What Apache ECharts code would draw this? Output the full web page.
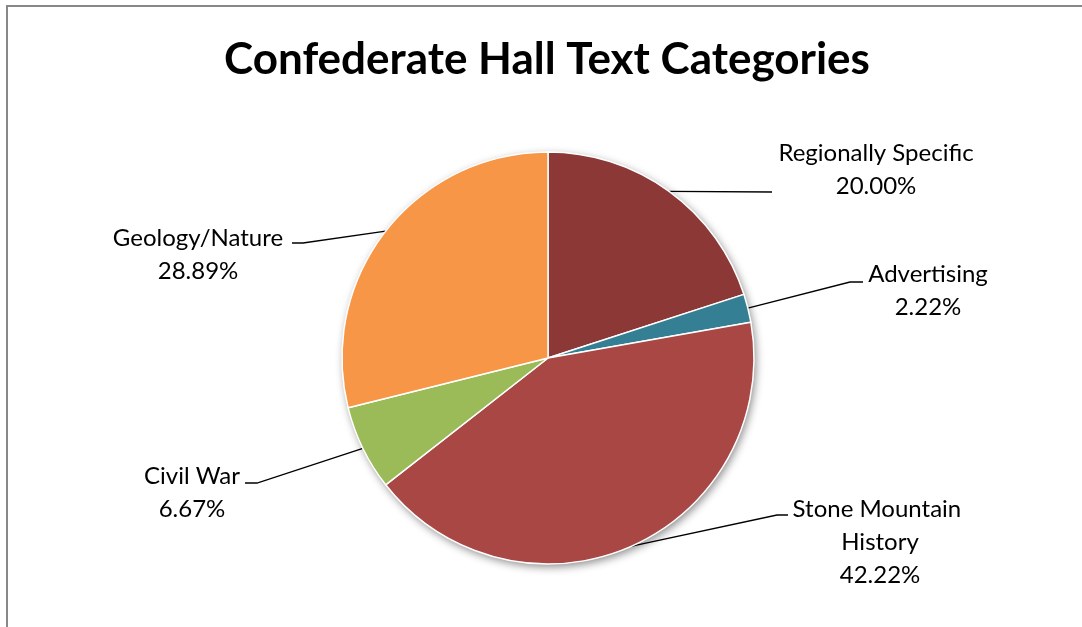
<!DOCTYPE html>
<html>
<head>
<meta charset="utf-8">
<title>Confederate Hall Text Categories</title>
<script src="https://cdn.jsdelivr.net/npm/echarts@6/dist/echarts.min.js"></script>
<style>
  html, body { margin: 0; padding: 0; background: #fff; }
  #chart { width: 1082px; height: 627px; }
</style>
</head>
<body>
<div id="chart"></div>
<script>
// Text categories and the number of panels in each
const categories = ['Regionally Specific', 'Advertising', 'Stone Mountain History', 'Civil War', 'Geology/Nature'];
const counts = [9, 1, 19, 3, 13];
const sliceColors = ['#8C3836', '#357F94', '#A94745', '#9BBB59', '#F79646'];

// Label placement: centre x / top y of each text block, and the leader bend + end points
const labelSpots = [
  { x: 876, y: 137, bend: [772, 192], end: [772, 192] },
  { x: 928, y: 258, bend: [850, 282], end: [863, 282] },
  { x: 880, y: 493, bend: [777, 515], end: [788, 515] },
  { x: 192, y: 460, bend: [257, 483], end: [245, 483] },
  { x: 198, y: 222, bend: [303, 243], end: [292, 243] }
];

const total = counts.reduce((a, b) => a + b, 0);
const pieCenter = [548, 358];
const pieRadius = 206;

const chart = echarts.init(document.getElementById('chart'), null, { renderer: 'canvas' });

chart.setOption({
  backgroundColor: '#fff',
  animation: false,
  title: {
    text: 'Confederate Hall Text Categories',
    left: 542,
    top: 33,
    textAlign: 'center',
    textStyle: { fontFamily: 'Lato', fontWeight: 'bold', fontSize: 44, color: '#000' }
  },
  graphic: [{
    type: 'rect',
    silent: true,
    shape: { x: 7, y: 6, width: 2000, height: 2000 },
    style: { fill: 'none', stroke: '#888', lineWidth: 2 }
  }],
  series: [
    {
      // soft drop shadow under the whole disc
      type: 'pie',
      silent: true,
      center: pieCenter,
      radius: pieRadius,
      label: { show: false },
      labelLine: { show: false },
      data: [{
        value: 1,
        itemStyle: {
          color: '#fff',
          shadowBlur: 8,
          shadowOffsetX: 2,
          shadowOffsetY: 3,
          shadowColor: 'rgba(0,0,0,0.45)'
        }
      }]
    },
    {
      type: 'pie',
      center: pieCenter,
      radius: pieRadius,
      startAngle: 90,
      clockwise: true,
      avoidLabelOverlap: false,
      itemStyle: { borderColor: '#fff', borderWidth: 1.5 },
      data: categories.map((name, i) => ({
        name: name,
        value: counts[i],
        itemStyle: { color: sliceColors[i] },
        label: name === 'Stone Mountain History' ? { width: 200, overflow: 'break' } : {}
      })),
      label: {
        show: true,
        position: 'outside',
        fontFamily: 'Lato',
        fontSize: 24,
        lineHeight: 33,
        color: '#000',
        align: 'center',
        formatter: p => p.name + '\n' + (p.value / total * 100).toFixed(2) + '%'
      },
      labelLine: {
        show: true,
        length: 20,
        length2: 10,
        smooth: false,
        lineStyle: { color: '#000', width: 1.3 }
      },
      labelLayout: function (params) {
        const spot = labelSpots[params.dataIndex];
        const start = params.labelLinePoints ? params.labelLinePoints[0] : spot.bend;
        return {
          x: spot.x,
          y: spot.y,
          align: 'center',
          verticalAlign: 'top',
          labelLinePoints: [start, spot.bend, spot.end]
        };
      }
    }
  ]
});
</script>
</body>
</html>
